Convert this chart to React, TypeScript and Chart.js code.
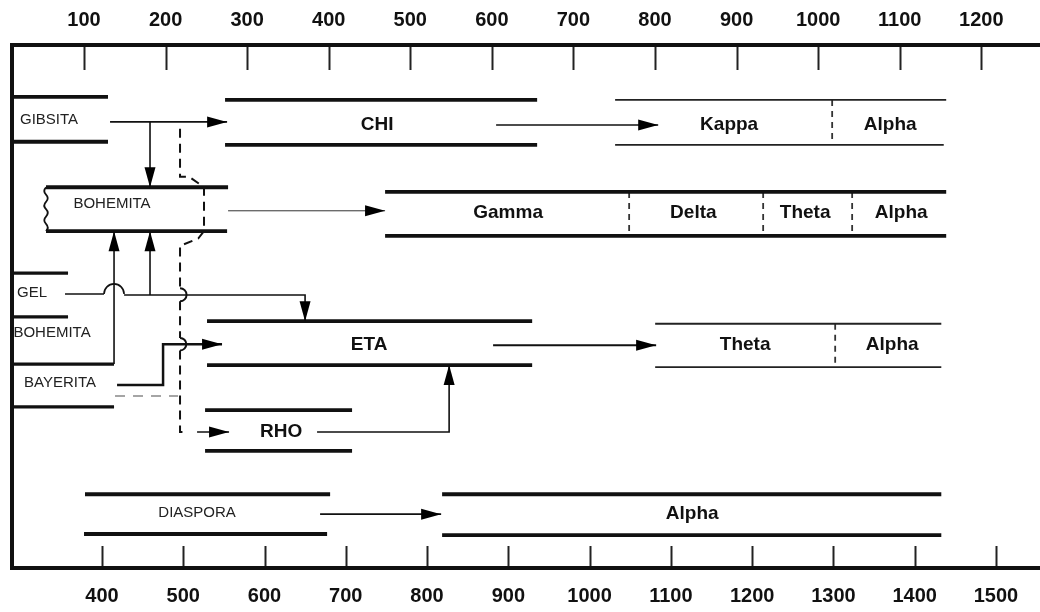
import React, { useEffect, useRef } from "react";
import { Chart, registerables } from "chart.js";

Chart.register(...registerables);

// ---------- axes ----------
const celsiusTicks = [100, 200, 300, 400, 500, 600, 700, 800, 900, 1000, 1100, 1200];
const kelvinTicks = [400, 500, 600, 700, 800, 900, 1000, 1100, 1200, 1300, 1400, 1500];
const celsiusRange = [11.7, 1272];
const kelvinRange = [289.3, 1554.2];
const levelRange = [0, 100];

// ---------- phase boundary lines: [fromC, toC, level] ----------
const heavyLines = [
  [11.7, 129.4, 90.1], [11.7, 129.4, 81.5], // gibbsite
  [272.9, 655.5, 89.5], [272.9, 655.5, 80.9], // chi
  [53.4, 276.6, 72.8], [53.4, 275.4, 64.4], // boehmite (box)
  [469.1, 1157, 71.9], [469.1, 1157, 63.5], // gamma-delta-theta-alpha
  [250.8, 649.4, 47.2], [250.8, 649.4, 38.8], // eta
  [248.4, 428.6, 30.2], [248.4, 428.6, 22.4], // rho
  [101.2, 401.7, 14.1], [100, 398, 6.5], // diaspore
  [539, 1151, 14.1], [539, 1151, 6.3], // alpha (from diaspore)
];
const leftRowLines = [
  [11.7, 80.4, 56.4], // gel top
  [11.7, 80.4, 48.0], // boehmite top
  [11.7, 136.8, 39.0], // boehmite bottom
  [11.7, 136.8, 30.8], // bayerite bottom
];
const lightLines = [
  [751.1, 1157, 89.5], [751.1, 1154, 80.9], // kappa-alpha
  [800.2, 1151, 46.7], [800.2, 1151, 38.4], // theta-alpha
];
// dashed phase dividers: [C, topLevel, bottomLevel]
const dividers = [
  [1017.2, 89.5, 80.9],
  [768.3, 71.9, 63.5], [932.6, 71.9, 63.5], [1041.7, 71.9, 63.5],
  [1020.9, 46.7, 38.4],
];

// ---------- transformation paths: [C, level] ----------
const gibbsiteToChi = [[131.9, 85.3], [275.4, 85.3]];
const chiToKappa = [[605.2, 84.7], [803.9, 84.7]];
const gibbsiteToBoehmite = [[180.9, 85.3], [180.9, 72.8]];
const boehmiteToGamma = [[276.6, 68.3], [469.1, 68.3]];
const boehmiteUp = [[136.8, 39.0], [136.8, 64.4]];
const gelToBoehmite = [[180.9, 52.2], [180.9, 64.4]];
const gelStart = [[76.7, 52.4], [124.5, 52.4]];
const gelToEta = [[149.1, 52.2], [371, 52.2], [371, 47.2]];
const bayeriteToEta = [[140.5, 35.0], [196.9, 35.0], [196.9, 42.8], [269.2, 42.8]];
const rhoToEta = [[385.7, 26.0], [547.6, 26.0], [547.6, 38.8]];
const etaToTheta = [[601.5, 42.6], [801.4, 42.6]];
const diasporeToAlpha = [[389.4, 10.3], [537.8, 10.3]];
const toRho = [[238.6, 26.0], [277.8, 26.0]];
const dashedUpper = [[217.7, 84.0], [217.7, 74.8], [229, 74.8], [247.1, 72.8], [247.1, 64.4], [240, 63.0], [217.7, 61.6], [217.7, 53.5]];
const dashedMiddle = [[217.7, 51.0], [217.7, 44.0]];
const dashedLower = [[217.7, 41.6], [217.7, 26.0], [226, 26.0]];
const bayeriteDashed = [[138, 32.9], [215.3, 32.9]];

// line hops: horizontal [fromC, toC, level], vertical [C, fromLevel, toLevel]
const hopsHorizontal = [[124.5, 149.1, 52.4]];
const hopsVertical = [[217.7, 53.5, 51.0], [217.7, 44.0, 41.6]];
// wavy (broken) edge: [C, topLevel, bottomLevel]
const wavyEdges = [[53.4, 72.8, 64.4]];

// ---------- labels: [text, C, level] ----------
const mineralLabels = [
  ["GIBSITA", 57.1, 85.7],
  ["BOHEMITA", 134.3, 69.6],
  ["GEL", 36.2, 52.6],
  ["BOHEMITA", 60.8, 44.9],
  ["BAYERITA", 70.6, 35.4],
  ["DIASPORA", 238.6, 10.5],
];
const phaseLabels = [
  ["CHI", 459.3, 84.7], ["Kappa", 890.9, 84.7], ["Alpha", 1088.3, 84.7],
  ["Gamma", 619.9, 67.9], ["Delta", 847, 67.9], ["Theta", 984.1, 67.9], ["Alpha", 1101.8, 67.9],
  ["ETA", 449.5, 42.6], ["Theta", 910.5, 42.6], ["Alpha", 1090.8, 42.6],
  ["RHO", 341.6, 26.0],
  ["Alpha", 845.6, 10.3],
];

const FONT = '"Liberation Sans", Arial, sans-serif';
const INK = "#111";

const pts = (arr: number[][]) => arr.map(([x, y]) => ({ x, y }));

function lineDs(data: number[][], width: number, opts: any = {}) {
  return {
    data: pts(data),
    showLine: true,
    borderColor: opts.color || INK,
    backgroundColor: opts.color || INK,
    borderWidth: width,
    borderDash: opts.dash || [],
    pointRadius: 0,
    tension: 0,
    fill: false,
    arrowHead: !!opts.head,
    borderCapStyle: "butt",
  };
}

function buildDatasets() {
  const ds: any[] = [];
  heavyLines.forEach(([a, b, y]) => ds.push(lineDs([[a, y], [b, y]], 3.8)));
  leftRowLines.forEach(([a, b, y]) => ds.push(lineDs([[a, y], [b, y]], 3.2)));
  lightLines.forEach(([a, b, y]) => ds.push(lineDs([[a, y], [b, y]], 1.8, { color: "#222" })));
  dividers.forEach(([x, t, b]) => ds.push(lineDs([[x, t], [x, b]], 1.8, { dash: [6, 5], color: "#333" })));
  ds.push(lineDs(gibbsiteToChi, 1.6, { head: true }));
  ds.push(lineDs(chiToKappa, 1.6, { head: true }));
  ds.push(lineDs(gibbsiteToBoehmite, 1.6, { head: true }));
  ds.push(lineDs(boehmiteToGamma, 1, { head: true, color: "#333" }));
  ds.push(lineDs(boehmiteUp, 1.6, { head: true }));
  ds.push(lineDs(gelToBoehmite, 1.6, { head: true }));
  ds.push(lineDs(gelStart, 1.6));
  ds.push(lineDs(gelToEta, 1.6, { head: true }));
  ds.push(lineDs(bayeriteToEta, 2.5, { head: true }));
  ds.push(lineDs(rhoToEta, 1.6, { head: true }));
  ds.push(lineDs(etaToTheta, 2, { head: true }));
  ds.push(lineDs(diasporeToAlpha, 1.6, { head: true }));
  ds.push(lineDs(toRho, 1.6, { head: true }));
  ds.push(lineDs(dashedUpper, 2, { dash: [9, 6] }));
  ds.push(lineDs(dashedMiddle, 2, { dash: [9, 6] }));
  ds.push(lineDs(dashedLower, 2, { dash: [9, 6] }));
  ds.push(lineDs(bayeriteDashed, 1.5, { dash: [10, 8], color: "#888" }));
  return ds;
}

const overlay = {
  id: "overlay",
  afterDatasetsDraw(chart: any) {
    const { ctx, chartArea, scales } = chart;
    const sx = scales.x, sy = scales.y, sk = scales.xK;
    const X = (v: number) => sx.getPixelForValue(v);
    const Y = (v: number) => sy.getPixelForValue(v);
    ctx.save();

    // arrowheads
    chart.data.datasets.forEach((ds: any) => {
      if (!ds.arrowHead) return;
      const d = ds.data;
      const a = d[d.length - 2], b = d[d.length - 1];
      const x1 = X(a.x), y1 = Y(a.y), x2 = X(b.x), y2 = Y(b.y);
      const ang = Math.atan2(y2 - y1, x2 - x1);
      const L = 20, W = 5.5;
      const c = Math.cos(ang), s = Math.sin(ang);
      ctx.beginPath();
      ctx.moveTo(x2, y2);
      ctx.lineTo(x2 - L * c + W * s, y2 - L * s - W * c);
      ctx.lineTo(x2 - L * c - W * s, y2 - L * s + W * c);
      ctx.closePath();
      ctx.fillStyle = "#000";
      ctx.fill();
    });

    // hops
    ctx.strokeStyle = INK;
    ctx.lineWidth = 1.6;
    hopsHorizontal.forEach(([a, b, y]) => {
      const xa = X(a), xb = X(b);
      ctx.beginPath();
      ctx.arc((xa + xb) / 2, Y(y), (xb - xa) / 2, Math.PI, 0, false);
      ctx.stroke();
    });
    ctx.lineWidth = 2;
    hopsVertical.forEach(([x, a, b]) => {
      const ya = Y(a), yb = Y(b);
      ctx.beginPath();
      ctx.arc(X(x), (ya + yb) / 2, Math.abs(yb - ya) / 2, -Math.PI / 2, Math.PI / 2, false);
      ctx.stroke();
    });

    // wavy broken edge
    ctx.lineWidth = 1.8;
    wavyEdges.forEach(([x, t, b]) => {
      const px = X(x), yt = Y(t), yb = Y(b);
      const n = 6, step = (yb - yt) / n;
      ctx.beginPath();
      ctx.moveTo(px, yt);
      for (let i = 0; i < n; i++) {
        const dir = i % 2 === 0 ? -3.5 : 3.5;
        ctx.quadraticCurveTo(px + dir, yt + step * (i + 0.5), px, yt + step * (i + 1));
      }
      ctx.stroke();
    });

    // labels
    ctx.textAlign = "center";
    ctx.textBaseline = "middle";
    ctx.fillStyle = "#222";
    ctx.font = `15px ${FONT}`;
    mineralLabels.forEach(([t, x, y]) => ctx.fillText(t as string, X(x as number), Y(y as number)));
    ctx.fillStyle = INK;
    ctx.font = `bold 19px ${FONT}`;
    phaseLabels.forEach(([t, x, y]) => ctx.fillText(t as string, X(x as number), Y(y as number)));

    // inner tick marks
    ctx.strokeStyle = "#222";
    ctx.lineWidth = 2;
    sx.ticks.forEach((tk: any) => {
      const p = Math.round(sx.getPixelForValue(tk.value)) + 0.5;
      ctx.beginPath();
      ctx.moveTo(p, chartArea.top);
      ctx.lineTo(p, chartArea.top + 25);
      ctx.stroke();
    });
    sk.ticks.forEach((tk: any) => {
      const p = Math.round(sk.getPixelForValue(tk.value)) + 0.5;
      ctx.beginPath();
      ctx.moveTo(p, chartArea.bottom - 22);
      ctx.lineTo(p, chartArea.bottom);
      ctx.stroke();
    });

    // frame (left, top, bottom)
    ctx.strokeStyle = INK;
    ctx.lineWidth = 4;
    ctx.beginPath();
    ctx.moveTo(chartArea.right + 2, chartArea.top);
    ctx.lineTo(chartArea.left, chartArea.top);
    ctx.lineTo(chartArea.left, chartArea.bottom);
    ctx.lineTo(chartArea.right + 2, chartArea.bottom);
    ctx.stroke();

    ctx.restore();
  },
};

const tickFont = { family: FONT, size: 20, weight: "bold" as const };

export default function App() {
  const ref = useRef<HTMLCanvasElement>(null);
  useEffect(() => {
    const chart = new Chart(ref.current as HTMLCanvasElement, {
      type: "scatter",
      data: { datasets: buildDatasets() },
      options: {
        animation: false,
        responsive: false,
        devicePixelRatio: 1,
        events: [],
        layout: { padding: { left: 12, right: 0, top: 0, bottom: 0 } },
        plugins: { legend: { display: false }, tooltip: { enabled: false } },
        scales: {
          x: {
            type: "linear",
            position: "top",
            min: celsiusRange[0],
            max: celsiusRange[1],
            afterBuildTicks: (s: any) => { s.ticks = celsiusTicks.map((v) => ({ value: v })); },
            afterFit: (s: any) => { s.height = 45; },
            grid: { display: false, drawTicks: false },
            border: { display: false },
            ticks: { padding: 13, color: INK, font: tickFont, maxRotation: 0, autoSkip: false, callback: (v: any) => String(v) },
          },
          xK: {
            type: "linear",
            position: "bottom",
            min: kelvinRange[0],
            max: kelvinRange[1],
            afterBuildTicks: (s: any) => { s.ticks = kelvinTicks.map((v) => ({ value: v })); },
            afterFit: (s: any) => { s.height = 44; },
            grid: { display: false, drawTicks: false },
            border: { display: false },
            ticks: { padding: 16, color: INK, font: tickFont, maxRotation: 0, autoSkip: false, callback: (v: any) => String(v) },
          },
          y: { type: "linear", display: false, min: levelRange[0], max: levelRange[1] },
        },
      } as any,
      plugins: [overlay],
    });
    return () => chart.destroy();
  }, []);
  return (
    <div style={{ position: "fixed", left: 0, top: 0, width: 1040, height: 612, background: "#fff" }}>
      <canvas ref={ref} width={1040} height={612} style={{ display: "block", width: 1040, height: 612 }} />
    </div>
  );
}
